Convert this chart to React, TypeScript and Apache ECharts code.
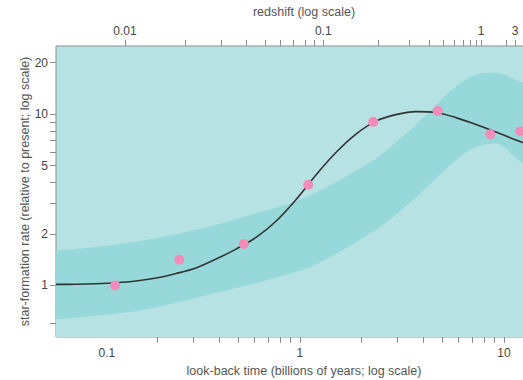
import React, { useEffect, useRef } from "react";
import * as echarts from "echarts";

// Look-back time samples (Gyr) shared by the fitted curve and its uncertainty band
const LOOKBACK_T = [0.0637, 0.0798, 0.1, 0.1254, 0.157, 0.197, 0.247, 0.309, 0.388, 0.486, 0.609, 0.763, 0.956, 1.198, 1.501, 1.882, 2.358, 2.955, 3.703, 4.642, 5.818, 7.291, 9.138, 11.45, 14.35];
// Fitted star-formation rate (relative to present)
const CURVE_V = [1.014, 1.016, 1.023, 1.037, 1.062, 1.105, 1.174, 1.264, 1.426, 1.63, 1.906, 2.371, 3.162, 4.419, 5.973, 7.651, 9.107, 9.934, 10.34, 10.23, 9.544, 8.69, 7.86, 7.06, 6.43];
// Uncertainty band
const UPPER_V = [1.598, 1.63, 1.674, 1.731, 1.803, 1.889, 1.993, 2.117, 2.263, 2.436, 2.639, 2.841, 3.099, 3.473, 3.997, 4.694, 5.512, 6.829, 8.63, 11.36, 14.55, 16.97, 17.43, 15.87, 13.98];
const LOWER_V = [0.634, 0.647, 0.665, 0.683, 0.706, 0.745, 0.796, 0.846, 0.905, 0.967, 1.034, 1.113, 1.198, 1.325, 1.535, 1.79, 2.117, 2.587, 3.27, 4.217, 5.403, 6.43, 6.739, 5.549, 4.419];

// Measurements
const POINT_T = [0.124, 0.256, 0.53, 1.098, 2.288, 4.73, 8.57, 12.02];
const POINT_V = [1.0, 1.416, 1.748, 3.87, 9.02, 10.45, 7.64, 7.96];

// Axes
const X_MIN = 0.0637;
const X_MAX = 17.2;
const Y_MIN = 0.5;
const Y_MAX = 25;
const BOTTOM_TICKS = [0.2, 0.3, 0.4, 0.5, 0.6, 0.7, 0.8, 0.9, 1, 2, 3, 4, 5, 6, 7, 8, 9, 10];
const BOTTOM_LABELS = [0.1, 1, 10];
const Y_TICKS = [0.6, 1, 2, 3, 4, 5, 6, 7, 8, 9, 10, 20];
const Y_LABELS = [1, 2, 5, 10, 20];
// redshift ticks and the look-back time (Gyr) each corresponds to
const Z_TICKS = [0.01, 0.02, 0.03, 0.04, 0.05, 0.06, 0.07, 0.08, 0.09, 0.1, 0.2, 0.3, 0.4, 0.5, 0.6, 0.7, 0.8, 0.9, 1, 2, 3];
const Z_LOOKBACK = [0.1387, 0.2753, 0.41, 0.5426, 0.674, 0.803, 0.93, 1.056, 1.179, 1.301, 2.432, 3.418, 4.282, 5.041, 5.71, 6.302, 6.827, 7.296, 7.715, 10.24, 11.35];
const Z_LABELS = [0.01, 0.1, 1, 3];

const LIGHT = "#b6e2e3";
const DARK = "#97d9da";
const PINK = "#f48cba";
const FONT = "'Liberation Sans', Arial, Helvetica, sans-serif";

const lg = (v: number) => Math.log10(v);
const pts = (ts: number[], vs: number[]) => ts.map((t, i) => [lg(t), lg(vs[i])]);

export default function App() {
  const ref = useRef<HTMLDivElement>(null);
  useEffect(() => {
    if (!ref.current) return;
    const chart = echarts.init(ref.current, null, { renderer: "svg" });
    const tickStyle = { color: "#8c8c8c", width: 1 };
    const labelStyle = { fontSize: 12, color: "#444", fontFamily: FONT };
    const nameStyle = { fontSize: 12.5, color: "#555", fontFamily: FONT };
    const fmtNum = (val: number) => {
      const v = Math.pow(10, val);
      const r = Math.round(v * 1000) / 1000;
      return String(r);
    };
    chart.setOption({
      animation: false,
      backgroundColor: "#fff",
      grid: {
        left: 56,
        top: 46,
        width: 496,
        height: 291,
        containLabel: false,
        outerBoundsMode: "none",
        show: true,
        backgroundColor: LIGHT,
        borderColor: "#8f8f8f",
        borderWidth: 1,
      },
      xAxis: [
        {
          type: "value",
          position: "bottom",
          min: lg(X_MIN),
          max: lg(X_MAX),
          axisLine: { show: false, onZero: false },
          splitLine: { show: false },
          axisTick: { show: true, length: 6, lineStyle: tickStyle, customValues: BOTTOM_TICKS.map(lg) },
          axisLabel: {
            ...labelStyle,
            margin: 10,
            customValues: BOTTOM_LABELS.map(lg),
            formatter: (val: number) => {
              const s = fmtNum(val);
              return s === "0.1" ? "{s|0.1}" : s;
            },
            rich: { s: { ...labelStyle, padding: [0, 0, 0, 22] } },
          },
          name: "look-back time (billions of years; log scale)",
          nameLocation: "middle",
          nameGap: 27,
          nameMoveOverlap: false,
          nameTextStyle: nameStyle,
        },
        {
          type: "value",
          position: "top",
          min: lg(X_MIN),
          max: lg(X_MAX),
          axisLine: { show: false, onZero: false },
          splitLine: { show: false },
          axisTick: { show: true, length: 6, lineStyle: tickStyle, customValues: Z_LOOKBACK.map(lg) },
          axisLabel: {
            ...labelStyle,
            margin: 9,
            customValues: Z_LABELS.map((z) => lg(Z_LOOKBACK[Z_TICKS.indexOf(z)])),
            formatter: (val: number) => {
              let best = 0;
              let bd = Infinity;
              Z_LOOKBACK.forEach((t, i) => {
                const d = Math.abs(lg(t) - val);
                if (d < bd) { bd = d; best = i; }
              });
              return String(Z_TICKS[best]);
            },
          },
          name: "redshift (log scale)",
          nameLocation: "middle",
          nameGap: 28,
          nameMoveOverlap: false,
          nameTextStyle: nameStyle,
        },
      ],
      yAxis: {
        type: "value",
        position: "left",
        min: lg(Y_MIN),
        max: lg(Y_MAX),
        axisLine: { show: false, onZero: false },
        splitLine: { show: false },
        axisTick: { show: true, length: 6, lineStyle: tickStyle, customValues: Y_TICKS.map(lg) },
        axisLabel: { ...labelStyle, margin: 8, customValues: Y_LABELS.map(lg), formatter: fmtNum },
        name: "star-formation rate (relative to present; log scale)",
        nameLocation: "middle",
        nameGap: 25,
        nameMoveOverlap: false,
        nameTextStyle: nameStyle,
      },
      series: [
        {
          type: "line",
          data: pts(LOOKBACK_T, UPPER_V),
          smooth: 0.3,
          showSymbol: false,
          lineStyle: { width: 0 },
          areaStyle: { color: DARK, opacity: 1, origin: "start" },
          silent: true,
          z: 1,
        },
        {
          type: "line",
          data: pts(LOOKBACK_T, LOWER_V),
          smooth: 0.3,
          showSymbol: false,
          lineStyle: { width: 0 },
          areaStyle: { color: LIGHT, opacity: 1, origin: "start" },
          silent: true,
          z: 2,
        },
        {
          type: "line",
          data: pts(LOOKBACK_T, CURVE_V),
          smooth: 0.3,
          showSymbol: false,
          lineStyle: { color: "#333", width: 1.6 },
          z: 3,
        },
        {
          type: "scatter",
          data: pts(POINT_T, POINT_V),
          symbolSize: 10,
          itemStyle: { color: PINK, opacity: 1 },
          z: 4,
        },
      ],
    });
    return () => chart.dispose();
  }, []);
  return (
    <div
      ref={ref}
      style={{ position: "fixed", left: 0, top: 0, width: 523, height: 380, background: "#fff" }}
    />
  );
}
